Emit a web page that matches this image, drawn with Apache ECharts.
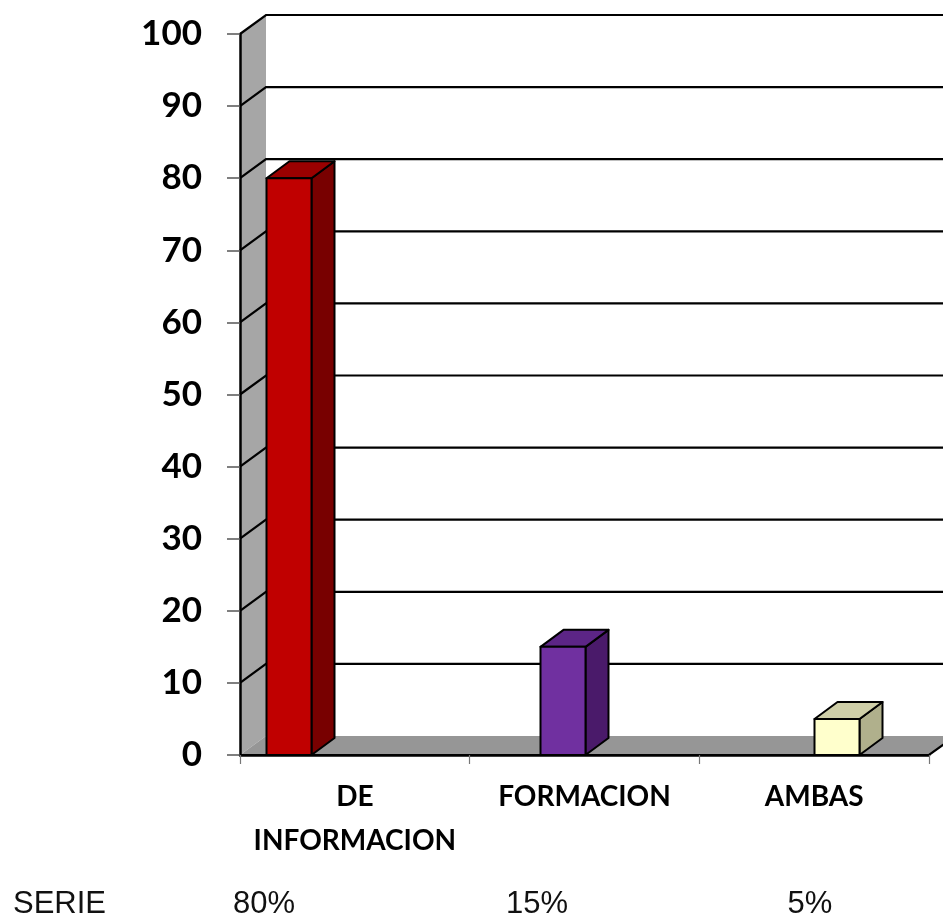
<!DOCTYPE html>
<html>
<head>
<meta charset="utf-8">
<script src="https://cdn.jsdelivr.net/npm/echarts@6/dist/echarts.min.js"></script>
<style>html,body{margin:0;padding:0;background:#fff}#c{width:943px;height:921px}</style>
</head>
<body>
<div id="c"></div>
<script>
// ---- data ----
const categories = ['DE\nINFORMACION', 'FORMACION', 'AMBAS'];
const values = [80, 15, 5];
const tableLabel = 'SERIE';
const tablePercents = ['80%', '15%', '5%'];
const yMin = 0, yMax = 100, yInterval = 10;

// ---- styles ----
const barFront = ['#c00000', '#7030a0', '#ffffcc'];
const barSide  = ['#780000', '#4a1a6a', '#b0b08c'];
const barTop   = ['#9a0000', '#5c2586', '#cfcfa8'];
const WALL_DX = 26, WALL_DY = -19;
const BAR_DX = 23, BAR_DY = -17;
const BAR_W = 45;

const levels = [];
for (let v = yMin; v <= yMax; v += yInterval) levels.push(v);

const chart = echarts.init(document.getElementById('c'), null, {renderer: 'canvas'});

const gridTop = 34, gridBottom = 921 - 755;
const lastIdx = categories.length - 1;

const option = {
  backgroundColor: '#ffffff',
  animation: false,
  grid: [
    {left: 240, width: 689, top: gridTop, bottom: gridBottom},
    {left: 289, width: 548, top: gridTop, bottom: gridBottom},
    {left: 264, width: 546, top: gridTop, bottom: gridBottom}
  ],
  xAxis: [
    {
      gridIndex: 0, type: 'category', data: categories, z: 10,
      axisLine: {show: true, lineStyle: {color: '#000', width: 2.5}},
      axisTick: {show: true, interval: 0, length: 9, lineStyle: {color: '#777', width: 1.2}},
      axisLabel: {
        interval: 0, margin: 20, color: '#000', fontFamily: 'Lato', fontWeight: 'bold',
        fontSize: 28, lineHeight: 44
      },
      splitLine: {show: false}
    },
    {gridIndex: 1, type: 'value', min: 0, max: lastIdx, interval: 1, show: false},
    {
      gridIndex: 2, type: 'value', min: 0, max: lastIdx, interval: 1,
      axisLine: {show: false}, axisTick: {show: false},
      axisLabel: {
        margin: 149, verticalAlign: 'middle', color: '#111', showMinLabel: true, showMaxLabel: true,
        fontFamily: 'Liberation Sans', fontSize: 31,
        formatter: function (v) { return tablePercents[Math.round(v)] || ''; }
      },
      splitLine: {show: false}
    }
  ],
  yAxis: [
    {
      gridIndex: 0, type: 'value', min: yMin, max: yMax, interval: yInterval, z: 10,
      axisLine: {show: true, lineStyle: {color: '#000', width: 2.5}},
      axisTick: {show: true, length: 13, lineStyle: {color: '#555', width: 1.5}},
      axisLabel: {margin: 38, color: '#000', fontFamily: 'Lato', fontWeight: 'bold', fontSize: 35},
      splitLine: {show: false}
    },
    {gridIndex: 1, type: 'value', min: yMin, max: yMax, interval: yInterval, show: false},
    {gridIndex: 2, type: 'value', min: yMin, max: yMax, interval: yInterval, show: false}
  ],
  graphic: [
    {
      type: 'text', left: 13, top: 889,
      style: {text: tableLabel, fill: '#111', font: '31px "Liberation Sans"'}
    }
  ],
  series: [
    {
      // walls, floor and gridlines
      type: 'custom', xAxisIndex: 0, yAxisIndex: 0, z: 1, silent: true,
      data: [0],
      renderItem: function (params, api) {
        const cs = params.coordSys;
        const x0 = cs.x, x1 = cs.x + cs.width;
        const yTop = api.coord([0, yMax])[1];
        const yBot = api.coord([0, yMin])[1];
        const children = [];
        children.push({
          type: 'polygon',
          shape: {points: [[x0, yTop], [x0 + WALL_DX, yTop + WALL_DY], [x0 + WALL_DX, yBot + WALL_DY], [x0, yBot]]},
          style: {fill: '#a6a6a6'}
        });
        levels.forEach(function (lv) {
          if (lv === yMin) return;
          const y = api.coord([0, lv])[1];
          children.push({
            type: 'polyline',
            shape: {points: [[x0, y], [x0 + WALL_DX, y + WALL_DY], [x1 + WALL_DX, y + WALL_DY]]},
            style: {stroke: '#000', lineWidth: 2.2, fill: null}
          });
        });
        children.push({
          type: 'polygon',
          shape: {points: [[x0, yBot], [x0 + WALL_DX, yBot + WALL_DY], [x1 + WALL_DX, yBot + WALL_DY], [x1, yBot]]},
          style: {fill: '#969696'}
        });
        children.push({
          type: 'polyline',
          shape: {points: [[x0, yBot], [x1, yBot], [x1 + WALL_DX, yBot + WALL_DY]]},
          style: {stroke: '#000', lineWidth: 2.2, fill: null}
        });
        return {type: 'group', children: children};
      }
    },
    {
      // 3D bars
      type: 'custom', xAxisIndex: 1, yAxisIndex: 1, z: 3, clip: false,
      data: values.map(function (v, i) { return [i, v]; }),
      renderItem: function (params, api) {
        const i = params.dataIndex;
        const top = api.coord([api.value(0), api.value(1)]);
        const base = api.coord([api.value(0), 0]);
        const xl = top[0] - BAR_W / 2, xr = top[0] + BAR_W / 2;
        const yt = top[1], yb = base[1];
        const line = {stroke: '#000', lineWidth: 2, lineJoin: 'round'};
        return {
          type: 'group',
          children: [
            {
              type: 'polygon',
              shape: {points: [[xr, yt], [xr + BAR_DX, yt + BAR_DY], [xr + BAR_DX, yb + BAR_DY], [xr, yb]]},
              style: Object.assign({fill: barSide[i]}, line)
            },
            {
              type: 'polygon',
              shape: {points: [[xl, yt], [xl + BAR_DX, yt + BAR_DY], [xr + BAR_DX, yt + BAR_DY], [xr, yt]]},
              style: Object.assign({fill: barTop[i]}, line)
            },
            {
              type: 'rect',
              shape: {x: xl, y: yt, width: BAR_W, height: yb - yt},
              style: Object.assign({fill: barFront[i]}, line)
            }
          ]
        };
      }
    }
  ]
};
chart.setOption(option);
</script>
</body>
</html>
